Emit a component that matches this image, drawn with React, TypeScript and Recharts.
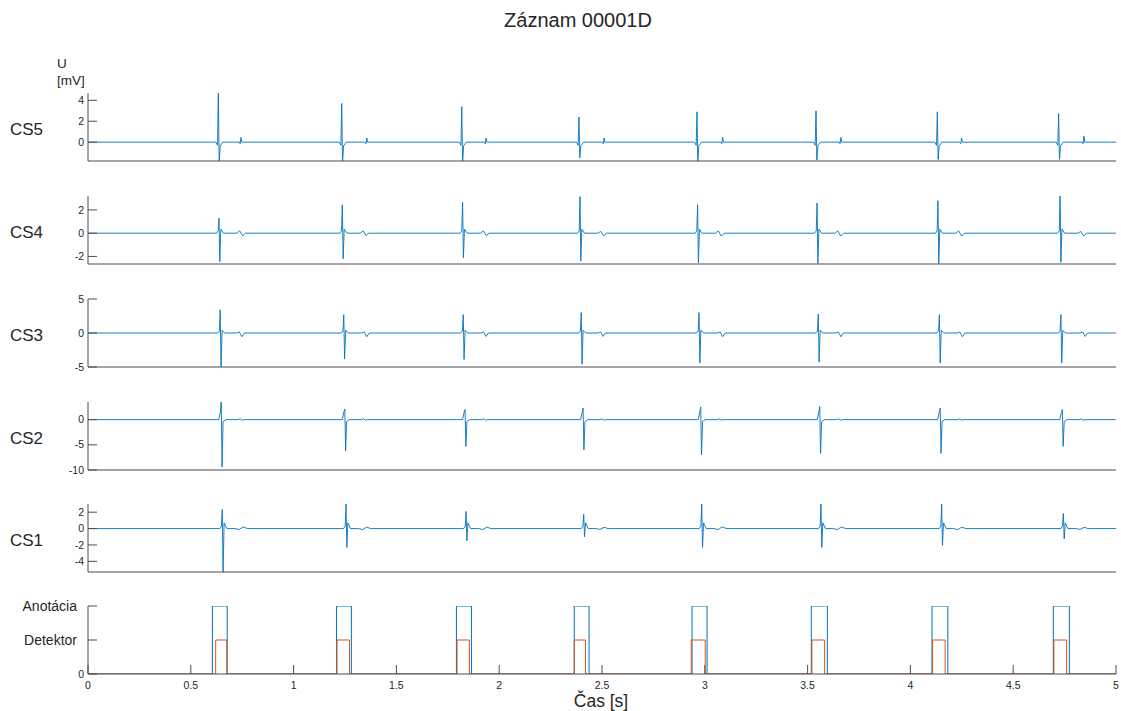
import React from 'react';
import { Line, LineChart, XAxis, YAxis } from 'recharts';

const TITLE = 'Záznam 00001D';
const LEADS = ['CS5', 'CS4', 'CS3', 'CS2', 'CS1'];
const X_TICKS = [0, 0.5, 1, 1.5, 2, 2.5, 3, 3.5, 4, 4.5, 5];

// QRS complexes: R time [s], peak [mV], trough [mV]
const cs5Beats = [
  [0.634, 4.9, -2.1],
  [1.234, 3.7, -2.0],
  [1.818, 3.4, -2.0],
  [2.388, 2.4, -1.5],
  [2.962, 2.9, -1.9],
  [3.541, 3.0, -1.7],
  [4.131, 2.9, -1.65],
  [4.721, 2.75, -1.65],
];
const cs4Beats = [
  [0.637, 1.3, -2.45],
  [1.237, 2.45, -2.2],
  [1.822, 2.65, -2.1],
  [2.393, 3.15, -2.4],
  [2.965, 2.45, -2.55],
  [3.546, 2.6, -2.6],
  [4.134, 2.8, -2.6],
  [4.728, 3.25, -2.5],
];
const cs3Beats = [
  [0.643, 3.4, -5.3],
  [1.244, 2.7, -3.8],
  [1.825, 2.7, -3.9],
  [2.399, 3.0, -4.6],
  [2.972, 3.0, -4.4],
  [3.552, 2.8, -4.3],
  [4.141, 2.7, -4.4],
  [4.732, 2.7, -4.4],
];
const cs2Beats = [
  [0.648, 3.8, -9.4],
  [1.249, 2.1, -6.2],
  [1.834, 2.0, -5.3],
  [2.408, 2.3, -6.0],
  [2.98, 2.5, -7.0],
  [3.559, 2.6, -6.7],
  [4.145, 2.3, -6.7],
  [4.739, 2.0, -5.3],
];
const cs1Beats = [
  [0.653, 2.35, -5.6],
  [1.255, 3.0, -2.3],
  [1.839, 2.1, -1.5],
  [2.411, 1.75, -1.0],
  [2.985, 3.0, -2.3],
  [3.565, 3.0, -2.3],
  [4.152, 3.0, -2.05],
  [4.744, 1.85, -1.25],
];

// late waves: time [s], first lobe, second lobe [mV]
const cs5Waves = [
  [0.744, -0.15, 0.45],
  [1.356, -0.15, 0.4],
  [1.936, -0.15, 0.4],
  [2.51, -0.15, 0.4],
  [3.087, -0.15, 0.45],
  [3.662, -0.15, 0.45],
  [4.249, -0.15, 0.4],
  [4.844, -0.15, 0.6],
];
const cs4Waves = [
  [0.752, 0.2, -0.22],
  [1.352, 0.2, -0.2],
  [1.937, 0.2, -0.2],
  [2.508, 0.15, -0.22],
  [3.08, 0.2, -0.25],
  [3.661, 0.2, -0.25],
  [4.249, 0.2, -0.25],
  [4.843, 0.15, -0.25],
];
const cs3Waves = [
  [0.748, 0.15, -0.55],
  [1.356, 0.15, -0.55],
  [1.936, 0.15, -0.5],
  [2.505, 0.15, -0.5],
  [3.087, 0.15, -0.55],
  [3.662, 0.15, -0.55],
  [4.253, 0.15, -0.55],
  [4.85, 0.15, -0.5],
];
const cs2Waves = [
  [0.75, 0.15, -0.1],
  [1.35, 0.15, -0.1],
  [1.935, 0.15, -0.1],
  [2.51, 0.15, -0.1],
  [3.08, 0.15, -0.1],
  [3.66, 0.15, -0.1],
  [4.25, 0.15, -0.1],
  [4.84, 0.15, -0.1],
];
const cs1Waves = [
  [0.755, -0.12, 0.2],
  [1.355, -0.12, 0.18],
  [1.94, -0.12, 0.18],
  [2.51, -0.1, 0.15],
  [3.085, -0.12, 0.2],
  [3.665, -0.12, 0.2],
  [4.25, -0.12, 0.18],
  [4.845, -0.1, 0.15],
];

// QRS marks [start, end] in seconds
const annotation = [
  [0.605, 0.677],
  [1.209, 1.281],
  [1.792, 1.865],
  [2.365, 2.437],
  [2.938, 3.011],
  [3.518, 3.596],
  [4.105, 4.182],
  [4.695, 4.773],
];
const detector = [
  [0.621, 0.675],
  [1.211, 1.272],
  [1.795, 1.855],
  [2.365, 2.42],
  [2.934, 3.002],
  [3.521, 3.583],
  [4.108, 4.169],
  [4.698, 4.76],
];
const ANNOTATION_LEVEL = 2;
const DETECTOR_LEVEL = 1;

const BLUE = '#0072BD';
const ORANGE = '#D95319';
const AXIS = '#4d4d4d';
const TEXT = '#262626';
const FONT = '"Liberation Sans", Arial, Helvetica, sans-serif';

const WIDTH = 1121;
const PLOT_LEFT = 88;
const PLOT_RIGHT = 1116;
const PANEL_TOPS = [93, 196, 299, 402, 504, 606];
const PANEL_H = 68;
const PAD = 8;

type Pt = { t: number; v: number };

// per lead: value before R, rebound after S, half-width of the late wave
function buildTrace(
  beats: number[][],
  waves: number[][],
  pre: number,
  rebound: number,
  gap: number,
): Pt[] {
  const pts: Pt[] = [{ t: 0, v: 0 }];
  beats.forEach(([t, hi, lo], i) => {
    pts.push(
      { t: t - 0.012, v: 0 },
      { t: t - 0.004, v: pre },
      { t, v: hi },
      { t: t + 0.004, v: lo },
      { t: t + 0.009, v: rebound },
      { t: t + 0.022, v: 0 },
    );
    const [tw, a, b] = waves[i];
    pts.push(
      { t: tw - 2 * gap, v: 0 },
      { t: tw - gap, v: a },
      { t: tw, v: b },
      { t: tw + gap, v: 0 },
    );
  });
  pts.push({ t: 5, v: 0 });
  return pts;
}

function buildPulses(marks: number[][], level: number): Pt[] {
  const pts: Pt[] = [{ t: 0, v: 0 }];
  marks.forEach(([s, e]) => {
    pts.push({ t: s, v: 0 }, { t: s, v: level }, { t: e, v: level }, { t: e, v: 0 });
  });
  pts.push({ t: 5, v: 0 });
  return pts;
}

const LEAD_PANELS = [
  { data: buildTrace(cs5Beats, cs5Waves, -0.3, -0.35, 0.004), domain: [-1.8, 4.7], ticks: [0, 2, 4] },
  { data: buildTrace(cs4Beats, cs4Waves, 0.2, 0.35, 0.014), domain: [-2.65, 3.2], ticks: [-2, 0, 2] },
  { data: buildTrace(cs3Beats, cs3Waves, 0.3, 0.4, 0.012), domain: [-5, 5], ticks: [-5, 0, 5] },
  { data: buildTrace(cs2Beats, cs2Waves, 1.6, -0.4, 0.01), domain: [-10, 3.5], ticks: [-10, -5, 0] },
  { data: buildTrace(cs1Beats, cs1Waves, 0.3, 0.7, 0.02), domain: [-5.3, 3], ticks: [-4, -2, 0, 2] },
];

const MARK_LABELS: Record<number, string> = { 0: '0', 1: 'Detektor', 2: 'Anotácia' };

const yTick = (labels?: Record<number, string>) => (props: any) => {
  const { y, payload } = props;
  const label = labels ? labels[payload.value] : String(payload.value);
  const word = isNaN(Number(label));
  return (
    <g>
      <line x1={PLOT_LEFT} x2={PLOT_LEFT + 9} y1={y} y2={y} stroke={AXIS} />
      <text
        x={word ? 77 : 84}
        y={y}
        dy="0.35em"
        textAnchor="end"
        fontSize={word ? 14 : 10.5}
        fontFamily={FONT}
        fill={TEXT}
      >
        {label}
      </text>
    </g>
  );
};

const xTick = (props: any) => {
  const { x, payload } = props;
  const base = PAD + PANEL_H;
  return (
    <g>
      <line x1={x} x2={x} y1={base} y2={base - 9} stroke={AXIS} />
      <text x={x} y={base + 11} dy="0.35em" textAnchor="middle" fontSize={10.5} fontFamily={FONT} fill={TEXT}>
        {payload.value}
      </text>
    </g>
  );
};

function LeadPanel({ top, data, domain, ticks }: { top: number; data: Pt[]; domain: number[]; ticks: number[] }) {
  return (
    <div style={{ position: 'absolute', left: 0, top: top - PAD }}>
      <LineChart
        width={WIDTH}
        height={PANEL_H + 2 * PAD}
        margin={{ top: PAD, right: WIDTH - PLOT_RIGHT, bottom: PAD - 2, left: 0 }}
      >
        <XAxis
          dataKey="t"
          type="number"
          domain={[0, 5]}
          allowDataOverflow
          height={2}
          tick={false}
          tickLine={false}
          axisLine={{ stroke: AXIS }}
        />
        <YAxis
          type="number"
          domain={domain}
          ticks={ticks}
          interval={0}
          allowDataOverflow
          width={PLOT_LEFT}
          tickLine={false}
          tick={yTick()}
          axisLine={{ stroke: AXIS }}
        />
        <Line
          data={data}
          dataKey="v"
          type="linear"
          stroke={BLUE}
          strokeWidth={0.9}
          dot={false}
          isAnimationActive={false}
        />
      </LineChart>
    </div>
  );
}

function MarkPanel({ top }: { top: number }) {
  return (
    <div style={{ position: 'absolute', left: 0, top: top - PAD }}>
      <LineChart
        width={WIDTH}
        height={PANEL_H + PAD + 30}
        margin={{ top: PAD, right: WIDTH - PLOT_RIGHT, bottom: 0, left: 0 }}
      >
        <XAxis
          dataKey="t"
          type="number"
          domain={[0, 5]}
          ticks={X_TICKS}
          interval={0}
          allowDataOverflow
          height={30}
          tickLine={false}
          tick={xTick}
          axisLine={{ stroke: AXIS }}
        />
        <YAxis
          type="number"
          domain={[0, 2]}
          ticks={[0, 1, 2]}
          interval={0}
          allowDataOverflow
          width={PLOT_LEFT}
          tickLine={false}
          tick={yTick(MARK_LABELS)}
          axisLine={{ stroke: AXIS }}
        />
        <Line
          data={buildPulses(annotation, ANNOTATION_LEVEL)}
          dataKey="v"
          type="linear"
          stroke={BLUE}
          strokeWidth={1}
          dot={false}
          isAnimationActive={false}
        />
        <Line
          data={buildPulses(detector, DETECTOR_LEVEL)}
          dataKey="v"
          type="linear"
          stroke={ORANGE}
          strokeWidth={1}
          dot={false}
          isAnimationActive={false}
        />
      </LineChart>
    </div>
  );
}

export default function App() {
  return (
    <div
      style={{
        position: 'absolute',
        left: 0,
        top: 0,
        width: WIDTH,
        height: 711,
        background: '#fff',
        fontFamily: FONT,
      }}
    >
      <svg width={WIDTH} height={711} style={{ position: 'absolute', left: 0, top: 0 }}>
        <text x={578} y={20} dy="0.35em" textAnchor="middle" fontSize={20} fill={TEXT} fontFamily={FONT}>
          {TITLE}
        </text>
        <text x={57} y={63} dy="0.35em" fontSize={13.5} fill={TEXT} fontFamily={FONT}>
          U
        </text>
        <text x={57} y={80} dy="0.35em" fontSize={13.5} fill={TEXT} fontFamily={FONT}>
          [mV]
        </text>
        {LEADS.map((name, i) => (
          <text
            key={name}
            x={10}
            y={PANEL_TOPS[i] + PANEL_H / 2 + 2}
            dy="0.35em"
            fontSize={17}
            fill={TEXT}
            fontFamily={FONT}
          >
            {name}
          </text>
        ))}
        <text x={601} y={701} dy="0.35em" textAnchor="middle" fontSize={17.5} fill={TEXT} fontFamily={FONT}>
          Čas [s]
        </text>
      </svg>
      {LEAD_PANELS.map((p, i) => (
        <LeadPanel key={LEADS[i]} top={PANEL_TOPS[i]} data={p.data} domain={p.domain} ticks={p.ticks} />
      ))}
      <MarkPanel top={PANEL_TOPS[5]} />
    </div>
  );
}
